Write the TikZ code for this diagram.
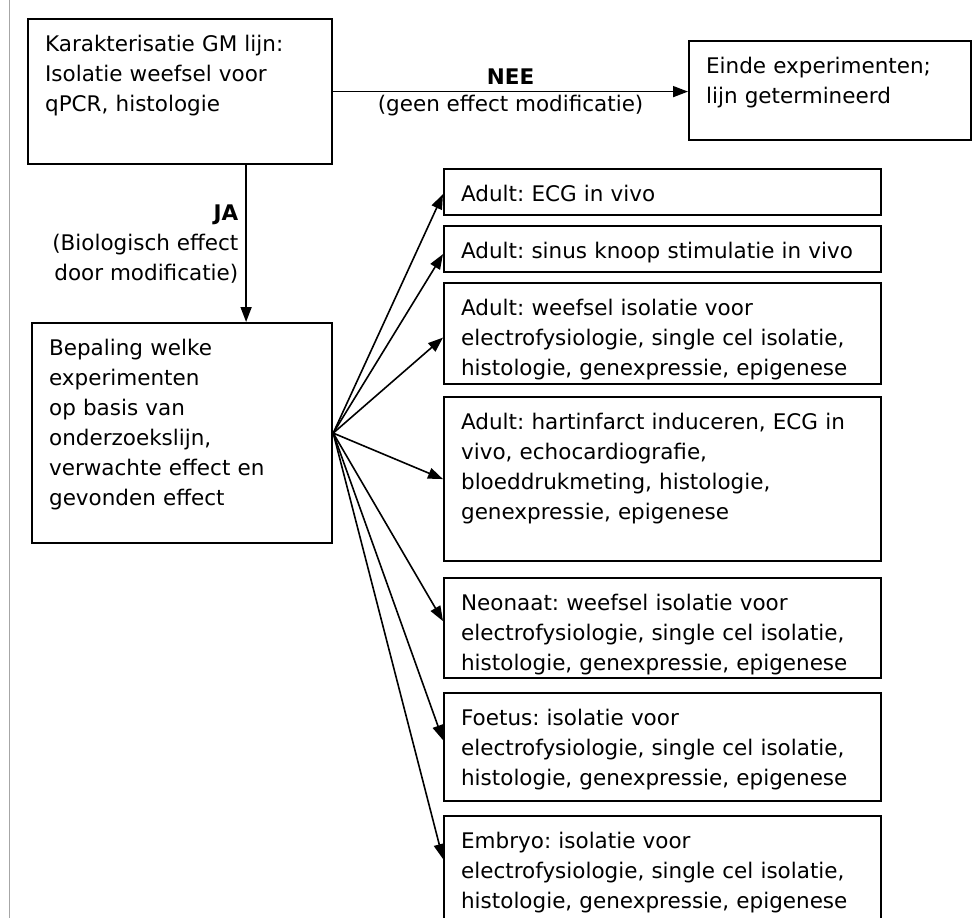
\documentclass[tikz,border=0pt]{standalone}
\usepackage{fontspec}
\setmainfont{DejaVu Sans}
\frenchspacing
\usetikzlibrary{arrows.meta}

\begin{document}
\begin{tikzpicture}[
	x=1pt, y=-1pt,
	every node/.style={font=\fontsize{21.5}{30}\selectfont},
	blok/.style={draw, line width=2.2pt, anchor=north west, align=left,
		text width=#1, inner xsep=17pt, inner ysep=0pt, text height=32pt},
	pijl/.style={line width=1.6pt, -{Triangle[length=15pt, width=11pt]}}
]
%/*
\useasboundingbox (0,0) rectangle (977,918);
\clip (0,0) rectangle (977,918);

\draw[gray!70, line width=1pt] (9,0) -- (9,918);

\node[blok=270pt, text depth=113pt] (kar) at (27,18)
	{Karakterisatie GM lijn:\\Isolatie weefsel voor\\qPCR, histologie};
\node[blok=248pt, text depth=67pt] (einde) at (688,40)
	{Einde experimenten;\\lijn getermineerd};
\node[blok=266pt, text depth=188pt] (bepaling) at (31,322)
	{Bepaling welke\\experimenten\\op basis van\\onderzoekslijn,\\verwachte effect en\\gevonden effect};

\node[blok=403pt, text depth=14pt] (ecg) at (443,168) {Adult: ECG in vivo};
\node[blok=403pt, text depth=14pt] (sinus) at (443,225) {Adult: sinus knoop stimulatie in vivo};
\node[blok=403pt, text depth=69pt] (weefsel) at (443,282)
	{Adult: weefsel isolatie voor\\electrofysiologie, single cel isolatie,\\histologie, genexpressie, epigenese};
\node[blok=403pt, text depth=132pt] (infarct) at (443,396)
	{Adult: hartinfarct induceren, ECG in\\vivo, echocardiografie,\\bloeddrukmeting, histologie,\\genexpressie, epigenese};
\node[blok=403pt, text depth=68pt] (neonaat) at (443,577)
	{Neonaat: weefsel isolatie voor\\electrofysiologie, single cel isolatie,\\histologie, genexpressie, epigenese};
\node[blok=403pt, text depth=76pt] (foetus) at (443,692)
	{Foetus: isolatie voor\\electrofysiologie, single cel isolatie,\\histologie, genexpressie, epigenese};
\node[blok=403pt, text depth=93pt] (embryo) at (443,815)
	{Embryo: isolatie voor\\electrofysiologie, single cel isolatie,\\histologie, genexpressie, epigenese};

\draw[pijl] (kar.east) -- (kar.east -| einde.west)
	node[midway, above, inner ysep=6pt] {\textbf{NEE}}
	node[midway, below, inner ysep=2.5pt] {(geen effect modificatie)};
\draw[pijl] ([xshift=66pt]kar.south) -- ([xshift=66pt]kar.south |- bepaling.north)
	node[midway, left, align=right, inner xsep=7pt] {\textbf{JA}\\(Biologisch effect\\door modificatie)};

\draw[pijl] (bepaling.east) -- ([yshift=-2pt]ecg.west);
\draw[pijl] (bepaling.east) -- ([yshift=-5pt]sinus.west);
\draw[pijl] (bepaling.east) -- ([yshift=-4pt]weefsel.west);
\draw[pijl] (bepaling.east) -- (infarct.west);
\draw[pijl] (bepaling.east) -- ([yshift=7pt]neonaat.west);
\draw[pijl] (bepaling.east) -- ([yshift=7pt]foetus.west);
\draw[pijl] (bepaling.east) -- ([yshift=-44pt]embryo.north west);
%*/
\end{tikzpicture}
\end{document}
